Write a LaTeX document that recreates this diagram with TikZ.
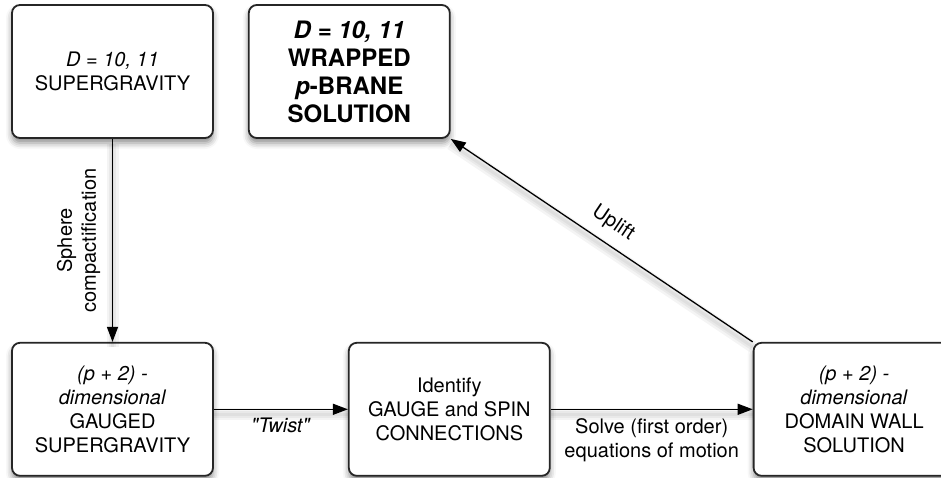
\documentclass[tikz,border=0pt]{standalone}
\usepackage{fontspec}
\setmainfont{TeX Gyre Heros}
\usetikzlibrary{arrows.meta,positioning,shadows.blur}

\begin{document}
\begin{tikzpicture}[stage/.style = {draw = black!85, line width = 1.8pt, rounded corners = 8pt, fill = white,
                                    minimum width = 201pt, minimum height = 133pt, align = center,
                                    font = \fontsize{20}{24}\selectfont,
                                    blur shadow = {shadow xshift = 0pt, shadow yshift = -5pt,
                                                   shadow blur radius = 6pt, shadow opacity = 45}},
                    goal/.style = {stage, font = \fontsize{24}{28}\selectfont\bfseries},
                    tag/.style = {font = \fontsize{20}{24}\selectfont, align = center},
                    soft/.style = {preaction = {draw, -, line width = #1, black, opacity = 0.045,
                                                transform canvas = {yshift = -5pt}}},
                    every edge/.style = {draw, line width = 1.3pt, -{Triangle[length = 15pt, width = 11pt]},
                                         soft = 12pt, soft = 7pt, soft = 3pt}]
        \useasboundingbox (0,0) rectangle (941pt,-478pt);

        \node [stage] (G) at (112.5pt,-71.5pt) {\textit{D = 10, 11}\\SUPERGRAVITY};
        \node [goal] (W) [right = 34pt of G] {\textit{D = 10, 11}\\WRAPPED\\\textit{p}-BRANE\\SOLUTION};
        \node [stage] (P) [below = 203pt of G] {\textit{(p + 2) -}\\\textit{dimensional}\\GAUGED\\SUPERGRAVITY};
        \node [stage] (C) [right = 134pt of P] {Identify\\GAUGE and SPIN\\CONNECTIONS};
        \node [stage] (DW) [right = 202pt of C] {\textit{(p + 2) -}\\\textit{dimensional}\\DOMAIN WALL\\SOLUTION};

        \path
            (G) edge node [tag, midway, rotate = 90, anchor = south, outer sep = 9pt] {Sphere\\compactification} (P)
            (P) edge node [tag, below = 5pt] {\textit{\textquotedbl Twist\textquotedbl}} (C)
            (C) edge node [tag, below = 5pt] {Solve (first order)\\equations of motion} (DW)
            (DW.north west) edge node [tag, pos = 0.5, sloped, above = 7pt] {Uplift} (W.south east);
    \end{tikzpicture}
\end{document}
